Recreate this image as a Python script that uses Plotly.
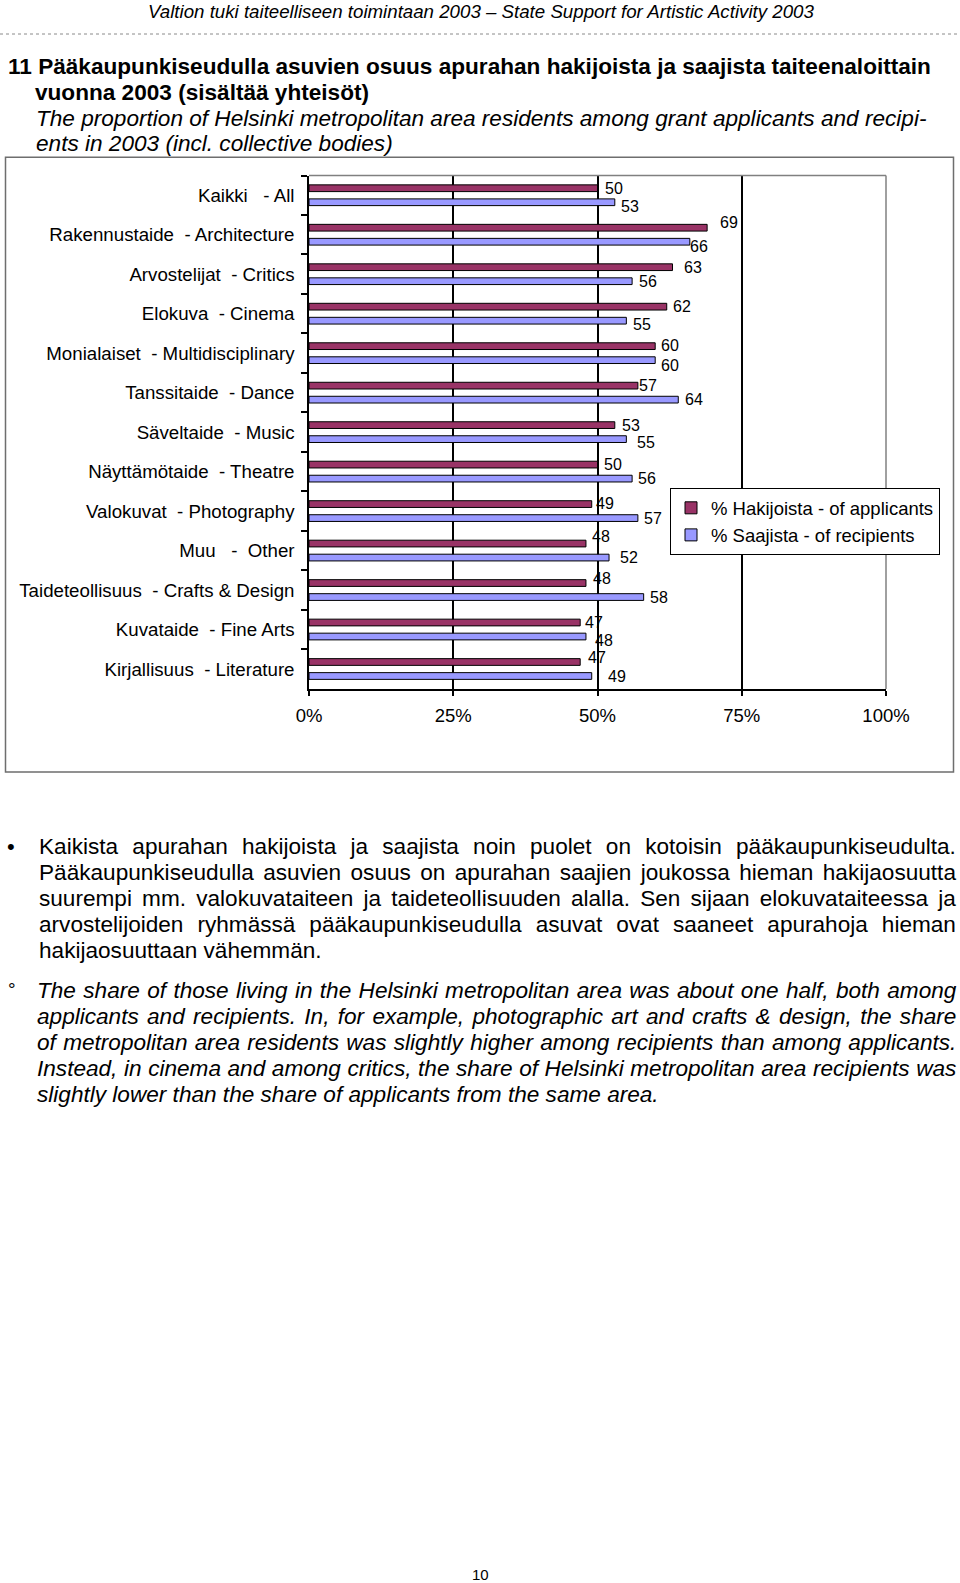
import plotly.graph_objects as go

# ---------------- data ----------------
categories = [
    "Kaikki\u00a0\u00a0\u00a0- All",
    "Rakennustaide\u00a0\u00a0- Architecture",
    "Arvostelijat\u00a0\u00a0- Critics",
    "Elokuva\u00a0\u00a0- Cinema",
    "Monialaiset\u00a0\u00a0- Multidisciplinary",
    "Tanssitaide\u00a0\u00a0- Dance",
    "Säveltaide\u00a0\u00a0- Music",
    "Näyttämötaide\u00a0\u00a0- Theatre",
    "Valokuvat\u00a0\u00a0- Photography",
    "Muu\u00a0\u00a0\u00a0-\u00a0\u00a0Other",
    "Taideteollisuus\u00a0\u00a0- Crafts & Design",
    "Kuvataide\u00a0\u00a0- Fine Arts",
    "Kirjallisuus\u00a0\u00a0- Literature",
]
applicants = [50, 69, 63, 62, 60, 57, 53, 50, 49, 48, 48, 47, 47]
recipients = [53, 66, 56, 55, 60, 64, 55, 56, 57, 52, 58, 48, 49]
series_names = ["% Hakijoista - of applicants", "% Saajista - of recipients"]
x_tick_values = [0, 25, 50, 75, 100]
x_tick_labels = ["0%", "25%", "50%", "75%", "100%"]

header_text = "Valtion tuki taiteelliseen toimintaan 2003 \u2013 State Support for Artistic Activity 2003"
title_bold = [
    "11 Pääkaupunkiseudulla asuvien osuus apurahan hakijoista ja saajista taiteenaloittain",
    "vuonna 2003 (sisältää yhteisöt)",
]
title_italic = [
    "The proportion of Helsinki metropolitan area residents among grant applicants and recipi-",
    "ents in 2003 (incl. collective bodies)",
]
para_fi = [
    "Kaikista apurahan hakijoista ja saajista noin puolet on kotoisin pääkaupunkiseudulta.",
    "Pääkaupunkiseudulla asuvien osuus on apurahan saajien joukossa hieman hakijaosuutta",
    "suurempi mm. valokuvataiteen ja taideteollisuuden alalla. Sen sijaan elokuvataiteessa ja",
    "arvostelijoiden ryhmässä pääkaupunkiseudulla asuvat ovat saaneet apurahoja hieman",
    "hakijaosuuttaan vähemmän.",
]
para_en = [
    "The share of those living in the Helsinki metropolitan area was about one half, both among",
    "applicants and recipients. In, for example, photographic art and crafts & design, the share",
    "of metropolitan area residents was slightly higher among recipients than among applicants.",
    "Instead, in cinema and among critics, the share of Helsinki metropolitan area recipients was",
    "slightly lower than the share of applicants from the same area.",
]
page_number = "10"

# label nudges (pixels): text start after bar end, vertical offset (down +)
lab_dx_app = [7, 13, 11.6, 6.6, 6, 1.3, 7, 6.7, 4, 6, 7, 4.5, 7.5]
lab_dy_app = [0, -5.6, 0, 0, -1, 0, 0, 0, -1, -7, -4.3, 0, -4.5]
lab_dx_rec = [6, 0, 7, 7, 6, 6.7, 10.7, 6, 6, 11, 6, 9, 16]
lab_dy_rec = [4, 5, 0, 3.7, 5.7, 0, 3.7, 0, 0, 0, 0, 4, 0]

# ---------------- page geometry ----------------
W, H = 960, 1583
FONT = "Liberation Sans, Arial, Helvetica, sans-serif"
COL_APP = "#993366"
COL_REC = "#9999FF"


def px(x):
    return x / W


def py(y):
    return 1 - y / H


# Arial / Liberation Sans advance widths (1/1000 em) for justification
AW = {" ": 278, "!": 278, "%": 889, "&": 667, "(": 333, ")": 333, ",": 278, "-": 333,
      ".": 278, ":": 278, ";": 278, "?": 556, "\u2013": 556,
      "A": 667, "B": 667, "C": 722, "D": 722, "E": 667, "F": 611, "G": 778, "H": 722,
      "I": 278, "J": 500, "K": 667, "L": 556, "M": 833, "N": 722, "O": 778, "P": 667,
      "Q": 778, "R": 722, "S": 667, "T": 611, "U": 722, "V": 667, "W": 944, "X": 667,
      "Y": 667, "Z": 611,
      "a": 556, "b": 556, "c": 500, "d": 556, "e": 556, "f": 278, "g": 556, "h": 556,
      "i": 222, "j": 222, "k": 500, "l": 222, "m": 833, "n": 556, "o": 556, "p": 556,
      "q": 556, "r": 333, "s": 500, "t": 278, "u": 556, "v": 500, "w": 722, "x": 500,
      "y": 500, "z": 500, "ä": 556, "ö": 556, "å": 556, "Ä": 667, "Ö": 778}
for d in "0123456789":
    AW[d] = 556


def natural_width(s, size):
    return sum(AW.get(c, 556) for c in s) * size / 1000.0


fig = go.Figure()
fig.add_trace(go.Bar(
    x=applicants, y=categories, orientation="h", name=series_names[0],
    marker=dict(color=COL_APP, line=dict(color="black", width=1)),
))
fig.add_trace(go.Bar(
    x=recipients, y=categories, orientation="h", name=series_names[1],
    marker=dict(color=COL_REC, line=dict(color="black", width=1)),
))

annotations = []
# data labels
for i, cat in enumerate(categories):
    annotations.append(dict(
        x=applicants[i], y=cat, xref="x", yref="y", text=str(applicants[i]),
        showarrow=False, xanchor="left", yanchor="middle",
        xshift=lab_dx_app[i], yshift=-(-7 + lab_dy_app[i]),
        font=dict(size=16, color="black", family=FONT), borderpad=0, borderwidth=0))
    annotations.append(dict(
        x=recipients[i], y=cat, xref="x", yref="y", text=str(recipients[i]),
        showarrow=False, xanchor="left", yanchor="middle",
        xshift=lab_dx_rec[i], yshift=-(7 + lab_dy_rec[i]),
        font=dict(size=16, color="black", family=FONT), borderpad=0, borderwidth=0))


def page_text(text, x, y, size, anchor="left", bold=False, italic=False, yanchor="middle"):
    annotations.append(dict(
        x=px(x), y=py(y), xref="paper", yref="paper", text=text,
        showarrow=False, xanchor=anchor, yanchor=yanchor,
        font=dict(size=size, color="black", family=FONT,
                  weight="bold" if bold else "normal",
                  style="italic" if italic else "normal"),
        borderpad=0, borderwidth=0))


# header
page_text(header_text, 481, 0.5, 18.7, anchor="center", italic=True, yanchor="top")
# title
TS = 22.6
page_text(title_bold[0], 8, 66.5, TS, bold=True)
page_text(title_bold[1], 35, 92.5, TS, bold=True)
page_text(title_italic[0], 36, 118.5, TS, italic=True)
page_text(title_italic[1], 36, 144, TS, italic=True)


def paragraph(lines, x_left, y0, italic):
    right = 956
    for k, line in enumerate(lines):
        txt = line
        if k < len(lines) - 1:
            nat = natural_width(line, TS)
            ws = (right - x_left - nat) / max(1, line.count(" "))
            txt = '<span style="word-spacing:%.2fpx">%s</span>' % (ws, line)
        page_text(txt, x_left, y0 + k * 25.9, TS, italic=italic)


page_text("\u2022", 7, 846.5, 22)
paragraph(para_fi, 39, 846.5, False)
page_text("\u00b0", 8, 989, 19)
paragraph(para_en, 36.5, 990.5, True)
page_text(page_number, 480.5, 1582.5, 15, anchor="center", yanchor="bottom")

shapes = [
    # dotted rule under header
    dict(type="line", xref="paper", yref="paper", x0=0, x1=1, y0=py(34), y1=py(34),
         line=dict(color="#8a8a8a", width=1, dash="dot")),
    # chart frame
    dict(type="rect", xref="paper", yref="paper", x0=px(5.5), x1=px(953.5),
         y0=py(772), y1=py(157.3), line=dict(color="#6e6e6e", width=1.5)),
    # plot area top and right border (gray)
    dict(type="line", xref="x domain", yref="y domain", x0=0, x1=1, y0=1, y1=1,
         line=dict(color="#808080", width=1.5), layer="above"),
    dict(type="line", xref="x domain", yref="y domain", x0=1, x1=1, y0=0, y1=1,
         line=dict(color="#808080", width=1.5), layer="above"),
]

fig.update_layout(
    width=W, height=H,
    margin=dict(l=0, r=0, t=0, b=0, autoexpand=False),
    paper_bgcolor="white", plot_bgcolor="white",
    font=dict(family=FONT, color="black", size=18.5),
    barmode="group", bargap=0.29, bargroupgap=0.52,
    showlegend=True,
    legend=dict(x=px(670), y=py(488.3), xanchor="left", yanchor="top",
                bordercolor="black", borderwidth=1, bgcolor="white",
                font=dict(size=18.5, family=FONT, color="black"),
                traceorder="normal"),
    annotations=annotations,
    shapes=shapes,
    xaxis=dict(domain=[px(309), px(886)], range=[0, 100], tickvals=x_tick_values,
               ticktext=x_tick_labels, ticks="outside", ticklen=5, tickwidth=1.5,
               tickcolor="black", showline=True, linecolor="black", linewidth=1.5,
               showgrid=True, gridcolor="black", gridwidth=1.5, zeroline=False,
               tickfont=dict(size=18.5, family=FONT, color="black"),
               ticklabelstandoff=4, fixedrange=True),
    yaxis=dict(domain=[py(689), py(175.5)], type="category", autorange="reversed",
               ticks="outside", tickson="boundaries", ticklen=6, tickwidth=1.5,
               tickcolor="black", showline=True, linecolor="black", linewidth=1.5,
               showgrid=False, zeroline=False,
               tickfont=dict(size=18.7, family=FONT, color="black"),
               ticklabelstandoff=9, fixedrange=True),
)

fig.write_html("out.html")
